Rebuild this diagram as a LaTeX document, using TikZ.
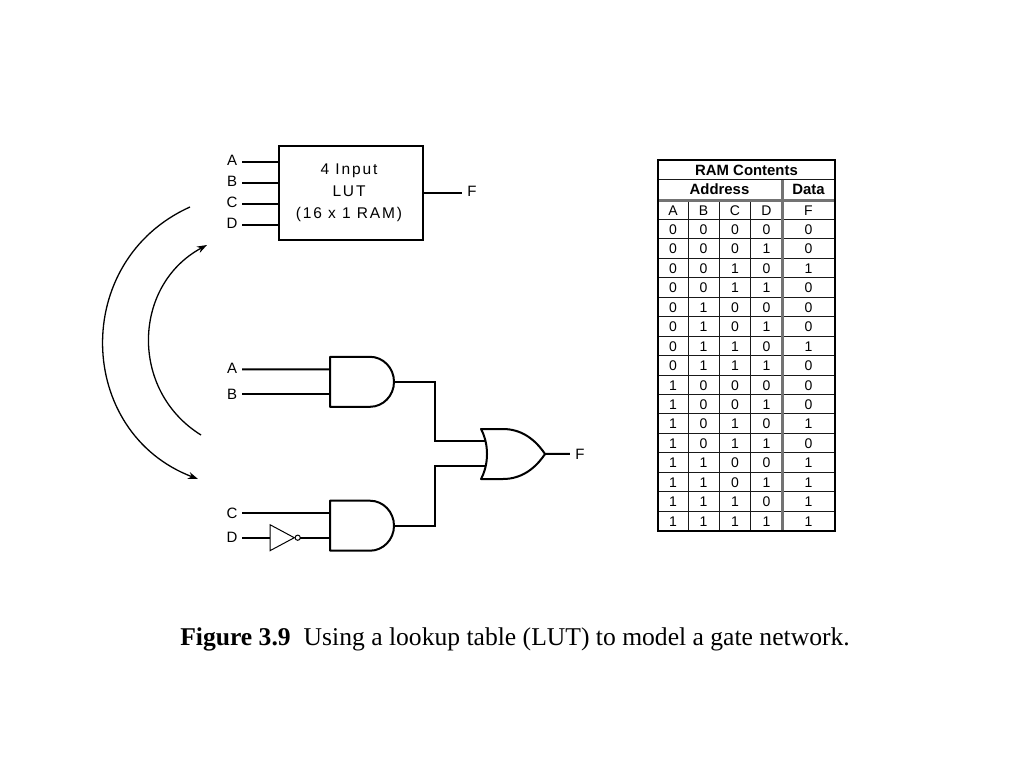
\documentclass[tikz,border=0pt]{standalone}
\usepackage{fontspec}
\setmainfont{Liberation Serif}
\setsansfont{Liberation Sans}
\newfontfamily\lutfont[LetterSpace=12]{Liberation Sans}
\usetikzlibrary{arrows.meta, positioning}

\tikzset{
    andgate/.pic={
        \draw[gateline] (0,0) -- (40,0) .. controls (53,0) and (64,11) .. (64,25)
            .. controls (64,39) and (53,50) .. (40,50) -- (0,50) -- cycle;
        \coordinate (-in1) at (0,12.6);
        \coordinate (-in2) at (0,37);
        \coordinate (-out) at (64,25);
    },
    orgate/.pic={
        \draw[gateline] (0,0) -- (22,0) .. controls (40,0) and (54,10) .. (64,25)
            .. controls (54,40) and (40,50) .. (22,50) -- (0,50)
            .. controls (8,35) and (8,15) .. (0,0) -- cycle;
        \coordinate (-in1) at (4.5,12.4);
        \coordinate (-in2) at (4.5,37);
        \coordinate (-out) at (64,25);
    },
    notgate/.pic={
        \draw[thinline] (0,0) -- (24.3,13) -- (0,26) -- cycle;
        \draw[thinline] (27.7,13) circle (2.6);
        \coordinate (-in) at (0,13);
        \coordinate (-out) at (30.3,13);
    }
}

\begin{document}
\begin{tikzpicture}[
    x=1pt, y=-1pt,
    gateline/.style={line width=2pt, line join=round},
    thinline/.style={line width=1pt, line join=miter},
    wire/.style={line width=2pt},
    arrow/.style={-{Stealth[length=10pt, width=7pt]}, line width=1.3pt},
    pinlabel/.style={font=\sffamily\fontsize{15}{15}\selectfont, inner sep=0pt, minimum width=20pt, text height=10.5pt, text depth=3pt, align=center},
    netlabel/.style={pinlabel, text depth=0pt},
    lutbox/.style={draw, line width=2pt, minimum width=144.5pt, minimum height=94pt, inner sep=0pt},
    luttext/.style={align=center, inner sep=0pt, font=\lutfont\fontsize{15.5}{22}\selectfont},
    cell/.style={font=\sffamily\fontsize{14}{14}\selectfont, inner sep=0pt, text height=10pt, text depth=0pt},
    headcell/.style={cell, font=\sffamily\bfseries\fontsize{14.9}{14.9}\selectfont},
    rowline/.style={line width=1pt, black!90},
    doubleline/.style={line width=3pt, black!55},
    frameline/.style={line width=2pt}
]
\useasboundingbox (0,0) rectangle (1024,768);

% LUT block
\node[lutbox] (lut) at (351.2,193) {};
\node[luttext] (lutname) at (349,193) {4 Input\\LUT\\(16 x 1 RAM)};
\node[pinlabel] (luta) at (232,161.7) {A};
\node[pinlabel] (lutb) at (232,182.5) {B};
\node[pinlabel] (lutc) at (232,203.5) {C};
\node[pinlabel] (lutd) at (232,224.7) {D};
\node[pinlabel] (lutf) at (472,193) {F};

\draw[wire] (luta.east) -- (lut.west |- luta);
\draw[wire] (lutb.east) -- (lut.west |- lutb);
\draw[wire] (lutc.east) -- (lut.west |- lutc);
\draw[wire] (lutd.east) -- (lut.west |- lutd);
\draw[wire] (lut.east |- lutf) -- (lutf.west);

% Equivalence arcs
\coordinate (outerstart) at (190,207);
\coordinate (outerend) at (198,479);
\coordinate (innerstart) at (201,435);
\coordinate (innerend) at (207,245);
\draw[arrow] (outerstart) to[bend right=67.5, looseness=1.23] (outerend);
\draw[arrow] (innerstart) to[bend left=60, looseness=1.136] (innerend);

% Gate network
\pic (andone) at (330,356.8) {andgate};
\pic (andtwo) at (330,500.7) {andgate};
\pic (orone) at (481,429) {orgate};
\pic (notone) at (270,524.7) {notgate};

\node[pinlabel] (neta) at (232,369.4) {A};
\node[netlabel] (netb) at (232,393.8) {B};
\node[netlabel] (netc) at (232,513.3) {C};
\node[netlabel] (netd) at (232,537.7) {D};
\node[netlabel] (netf) at (580,453.8) {F};

\draw[wire] (neta.east) -- (andone-in1);
\draw[wire] (netb.east) -- (andone-in2);
\draw[wire] (netc.east) -- (andtwo-in1);
\draw[wire] (netd.east) -- (notone-in);
\draw[wire] (notone-out) -- (andtwo-in2);
\draw[wire] (andone-out) -- ++(41,0) |- (orone-in1);
\draw[wire] (andtwo-out) -- ++(41,0) |- (orone-in2);
\draw[wire] (orone-out) -- (netf.west);

% RAM table
\foreach \r in {1,...,16}
    \draw[rowline] (657,{200+19.45*\r}) -- (835,{200+19.45*\r});
\foreach \c in {688.7,719,750.7}
    \draw[rowline] (\c,200) -- (\c,530.7);
\draw[rowline] (657,179.5) -- (835,179.5);
\draw[doubleline] (657,200) -- (835,200);
\draw[doubleline] (782.3,179.5) -- (782.3,530.7);
\draw[frameline] (657.5,160) rectangle (835,530.7);

\node[headcell] (ramtitle) at (746.5,170) {RAM Contents};
\node[headcell] (ramaddress) at (719.5,189.3) {Address};
\node[headcell] (ramdata) at (808.5,189.3) {Data};

\node[cell] (heada) at (673,210) {A};
\node[cell] (headb) at (703.5,210) {B};
\node[cell] (headc) at (735,210) {C};
\node[cell] (headd) at (766.5,210) {D};
\node[cell] (headf) at (808.5,210) {F};

\foreach \a/\b/\c/\d/\f [count=\r] in {0/0/0/0/0,0/0/0/1/0,0/0/1/0/1,0/0/1/1/0,
    0/1/0/0/0,0/1/0/1/0,0/1/1/0/1,0/1/1/1/0,1/0/0/0/0,1/0/0/1/0,1/0/1/0/1,1/0/1/1/0,
    1/1/0/0/1,1/1/0/1/1,1/1/1/0/1,1/1/1/1/1} {
    \node[cell] (a\r) at (673,{210+19.45*\r}) {\a};
    \node[cell] (b\r) at (703.5,{210+19.45*\r}) {\b};
    \node[cell] (c\r) at (735,{210+19.45*\r}) {\c};
    \node[cell] (d\r) at (766.5,{210+19.45*\r}) {\d};
    \node[cell] (f\r) at (808.5,{210+19.45*\r}) {\f};
}

% Caption
\node[font=\fontsize{25.6}{25.6}\selectfont, inner sep=0pt] (caption) at (515,639) {\textbf{Figure 3.9}\hspace{13pt}Using a lookup table (LUT) to model a gate network.};

\end{tikzpicture}
\end{document}
